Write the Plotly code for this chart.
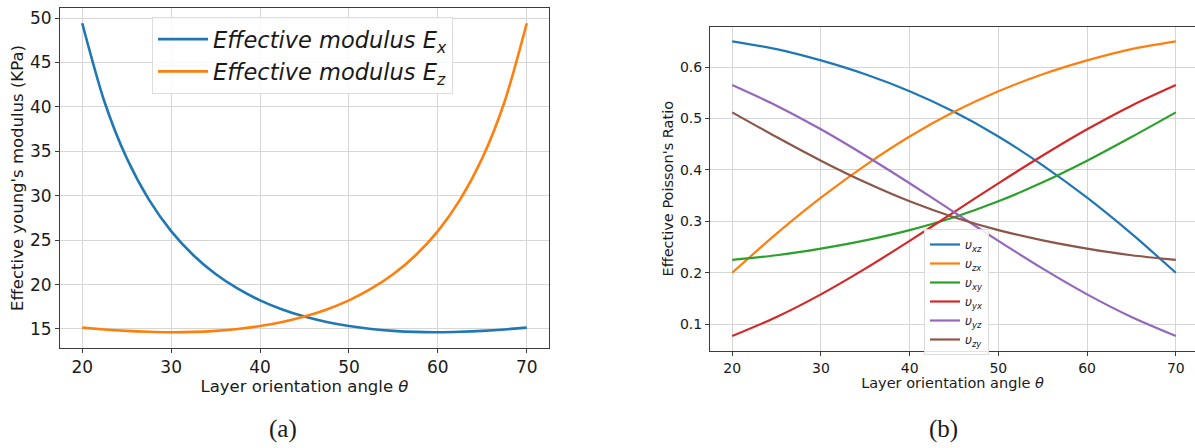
import plotly.graph_objects as go

# ---------------- data ----------------
theta_a = [20, 22.5, 25, 27.5, 30, 32.5, 35, 37.5, 40, 42.5, 45,
           47.5, 50, 52.5, 55, 57.5, 60, 62.5, 65, 67.5, 70]
E_x = [49.41, 40.58, 34.24, 29.56, 26.02, 23.30, 21.18, 19.53, 18.22, 17.20, 16.40,
       15.79, 15.33, 15.00, 14.79, 14.67, 14.64, 14.69, 14.79, 14.95, 15.15]
E_z = [15.15, 14.95, 14.79, 14.69, 14.64, 14.67, 14.79, 15.00, 15.33, 15.79, 16.40,
       17.20, 18.22, 19.53, 21.18, 23.30, 26.02, 29.56, 34.24, 40.58, 49.41]
legend_a = ["<i>Effective modulus E<sub>x</sub></i>",
            "<i>Effective modulus E<sub>z</sub></i>"]

theta_b = [20, 25, 30, 35, 40, 45, 50, 55, 60, 65, 70]
nu_xz = [0.650, 0.635, 0.613, 0.586, 0.553, 0.513, 0.465, 0.409, 0.346, 0.276, 0.200]
nu_zx = [0.200, 0.276, 0.346, 0.409, 0.465, 0.513, 0.553, 0.586, 0.613, 0.635, 0.650]
nu_xy = [0.225, 0.234, 0.247, 0.263, 0.283, 0.308, 0.339, 0.376, 0.418, 0.464, 0.512]
nu_yx = [0.077, 0.114, 0.158, 0.208, 0.262, 0.318, 0.374, 0.428, 0.479, 0.525, 0.565]
nu_yz = [0.565, 0.525, 0.479, 0.428, 0.374, 0.318, 0.262, 0.208, 0.158, 0.114, 0.077]
nu_zy = [0.512, 0.464, 0.418, 0.376, 0.339, 0.308, 0.283, 0.263, 0.247, 0.234, 0.225]
legend_b = ["<i>υ<sub>xz</sub></i>", "<i>υ<sub>zx</sub></i>", "<i>υ<sub>xy</sub></i>",
            "<i>υ<sub>yx</sub></i>", "<i>υ<sub>yz</sub></i>", "<i>υ<sub>zy</sub></i>"]

xticks = [20, 30, 40, 50, 60, 70]
yticks_a = [15, 20, 25, 30, 35, 40, 45, 50]
yticks_b = [0.1, 0.2, 0.3, 0.4, 0.5, 0.6]
captions = ["(a)", "(b)"]

colors = ["#1f77b4", "#ff7f0e", "#2ca02c", "#d62728", "#9467bd", "#8c564b"]
FONT = "DejaVu Sans"
TXT = "#1a1a1a"
GRID = "#d6d6d6"
SPINE = "#3c3c3c"

fig = go.Figure()

for i, (ys, name) in enumerate(zip([E_x, E_z], legend_a)):
    fig.add_trace(go.Scatter(x=theta_a, y=ys, mode="lines", name=name,
                             line=dict(color=colors[i], width=2.6, shape="spline", smoothing=0.8),
                             xaxis="x", yaxis="y", legend="legend"))

for i, (ys, name) in enumerate(zip([nu_xz, nu_zx, nu_xy, nu_yx, nu_yz, nu_zy], legend_b)):
    fig.add_trace(go.Scatter(x=theta_b, y=ys, mode="lines", name=name,
                             line=dict(color=colors[i], width=2.2, shape="spline", smoothing=0.8),
                             xaxis="x2", yaxis="y2", legend="legend2"))

W, H = 1195, 448


def axcommon(size):
    return dict(showline=True, linecolor=SPINE, linewidth=1, ticks="outside", ticklen=4,
                tickcolor=SPINE, tickwidth=1, showgrid=True, gridcolor=GRID, gridwidth=1,
                zeroline=False, automargin=False,
                tickfont=dict(family=FONT, size=size, color=TXT))


fig.update_layout(
    width=W, height=H, margin=dict(l=0, r=0, t=0, b=0),
    paper_bgcolor="white", plot_bgcolor="white",
    font=dict(family=FONT, color=TXT),
    xaxis=dict(domain=[60 / W, 549 / W], range=[17.5, 72.5], tickvals=xticks, mirror=True,
               anchor="y",
               title=dict(text="Layer orientation angle <i>θ</i>", standoff=3,
                          font=dict(family=FONT, size=16.5, color=TXT)),
               **axcommon(17)),
    yaxis=dict(domain=[1 - 348 / H, 1 - 8 / H], range=[12.86, 51.13], tickvals=yticks_a,
               mirror=True, anchor="x",
               title=dict(text="Effective young's modulus (KPa)", standoff=2,
                          font=dict(family=FONT, size=16.5, color=TXT)),
               **axcommon(17)),
    xaxis2=dict(domain=[710 / W, 1.0], range=[17.5, 72.16], tickvals=xticks, mirror=True,
                anchor="y2",
                title=dict(text="Layer orientation angle <i>θ</i>", standoff=1,
                           font=dict(family=FONT, size=14.5, color=TXT)),
                **axcommon(14)),
    yaxis2=dict(domain=[1 - 350.7 / H, 1 - 26.7 / H], range=[0.0484, 0.6786], tickvals=yticks_b,
                tickformat=".1f", anchor="x2",
                title=dict(text="Effective Poisson's Ratio", standoff=2,
                           font=dict(family=FONT, size=14.5, color=TXT)),
                **axcommon(14)),
    legend=dict(x=152 / W, y=1 - 17 / H, xanchor="left", yanchor="top",
                bgcolor="rgba(255,255,255,0.85)", bordercolor="#dddddd", borderwidth=1,
                itemwidth=50,
                font=dict(family=FONT, size=22.5, color=TXT), tracegroupgap=0),
    legend2=dict(x=924 / W, y=1 - 229 / H, xanchor="left", yanchor="top",
                 bgcolor="rgba(255,255,255,0.85)", bordercolor="#dddddd", borderwidth=1,
                 font=dict(family=FONT, size=12, color=TXT), tracegroupgap=0),
    showlegend=True,
)

for cap, xc in zip(captions, [283, 943]):
    fig.add_annotation(text=cap, x=xc / W, y=1 - 429 / H, xref="paper", yref="paper",
                       xanchor="center", yanchor="middle", showarrow=False,
                       font=dict(family="Liberation Serif", size=25, color=TXT))

fig.write_html("out.html", config={"displayModeBar": False},
               post_script="document.body.style.margin='0';document.body.style.overflow='hidden';")
